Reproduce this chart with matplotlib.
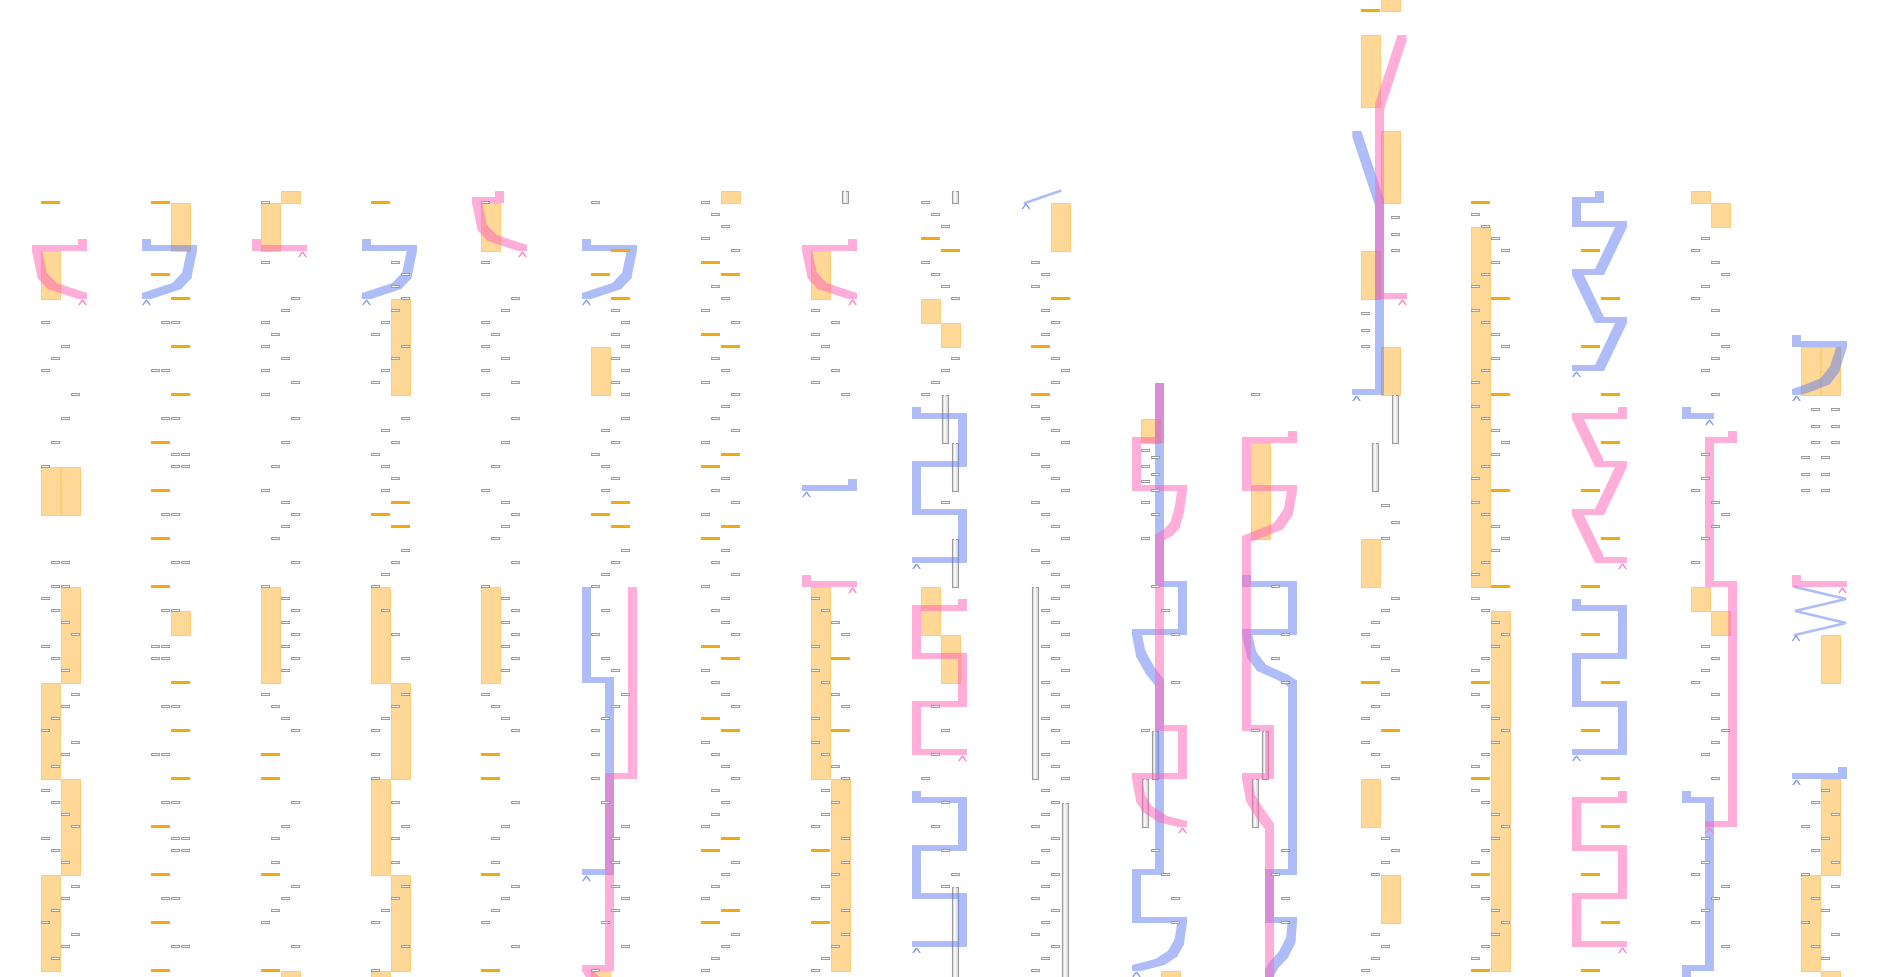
import matplotlib
matplotlib.use("Agg")
import matplotlib.pyplot as plt
from matplotlib.patches import Rectangle, PathPatch
from matplotlib.path import Path

# ---------------- data (per chart column; beat index counted from the top) ----------------
# tap notes: (beat, lane 0..3)
tap_notes = [
    [(27,0),(29,2),(30,1),(31,0),(33,3),(35,2),(37,1),(39,0),(47,1),(47,2),(49,1),(49,2),(50,0),(51,1),(52,2),(53,3),(54,0),(55,1),(56,2),(58,3),(59,2),(60,1),(61,0),(62,3),(63,2),(64,1),(66,0),(67,1),(68,2),(69,3),(70,0),(71,1),(72,2),(74,3),(75,2),(76,1),(77,0),(78,3),(79,2),(80,1)],
    [(27,1),(27,2),(31,0),(31,1),(35,1),(35,2),(38,2),(38,3),(39,2),(39,3),(43,1),(43,2),(47,2),(47,3),(51,1),(51,2),(54,0),(54,1),(55,0),(55,1),(59,1),(59,2),(63,0),(63,1),(67,1),(67,2),(70,2),(70,3),(71,2),(71,3),(75,1),(75,2),(79,2),(79,3)],
    [(17,0),(22,0),(25,3),(26,2),(27,0),(28,1),(29,0),(30,2),(31,0),(32,3),(33,0),(35,3),(37,2),(39,1),(41,0),(42,2),(43,3),(44,2),(45,1),(47,3),(49,0),(50,2),(51,3),(52,2),(53,3),(54,2),(55,3),(56,2),(58,0),(59,1),(60,2),(61,3),(67,3),(69,2),(70,1),(72,1),(74,3),(75,2),(76,1),(77,0),(79,3)],
    [(22,2),(23,3),(24,2),(25,3),(26,2),(27,1),(28,0),(29,3),(30,2),(31,1),(32,0),(35,3),(36,1),(37,2),(38,0),(39,1),(40,2),(41,1),(46,3),(47,2),(48,1),(49,0),(51,1),(53,2),(55,3),(58,3),(59,2),(60,1),(61,0),(63,0),(65,0),(67,2),(69,3),(70,2),(72,2),(74,3),(75,2),(76,1),(77,0),(79,3),(81,0)],
    [(17,0),(22,0),(25,3),(26,2),(27,0),(28,1),(29,0),(30,2),(31,0),(32,3),(33,0),(35,3),(37,2),(39,1),(41,0),(42,2),(43,3),(44,2),(45,1),(47,3),(49,0),(50,2),(51,3),(52,2),(53,3),(54,2),(55,3),(56,2),(58,0),(59,1),(60,2),(61,3),(67,3),(69,2),(70,1),(72,1),(74,3),(75,2),(76,1),(77,0),(79,3)],
    [(17,0),(26,2),(27,3),(28,2),(29,3),(30,2),(31,3),(32,2),(33,3),(35,3),(36,1),(37,2),(38,0),(39,1),(40,2),(41,1),(46,3),(47,2),(48,1),(49,0),(51,1),(53,0),(55,1),(56,2),(58,3),(59,2),(60,1),(61,0),(63,0),(65,0),(67,1),(69,3),(70,2),(72,2),(74,2),(75,3),(76,2),(77,1),(79,3),(81,0)],
    [(17,0),(18,1),(19,2),(20,0),(21,3),(24,1),(25,2),(26,0),(27,3),(30,1),(31,2),(32,0),(33,3),(34,2),(35,1),(36,3),(37,0),(40,2),(41,1),(42,3),(43,0),(46,2),(47,1),(48,3),(49,0),(50,2),(51,1),(52,2),(53,3),(56,0),(57,1),(58,2),(59,3),(62,0),(63,1),(64,2),(65,3),(66,1),(67,2),(68,1),(69,0),(72,3),(73,2),(74,1),(75,0),(78,3),(79,2),(80,1),(81,0)],
    [(26,0),(27,2),(28,0),(29,1),(30,0),(31,2),(32,0),(33,3),(50,0),(51,1),(52,2),(53,3),(54,0),(56,0),(57,1),(58,2),(59,3),(60,0),(62,0),(63,1),(64,2),(65,3),(66,1),(67,2),(68,1),(69,0),(70,3),(72,3),(73,2),(74,1),(75,0),(76,3),(78,3),(79,2),(80,1),(81,0)],
    [(17,0),(18,1),(19,2),(22,0),(23,1),(24,2),(25,3),(30,3),(31,2),(32,1),(33,0),(42,2),(59,1),(61,2),(63,1),(65,0),(67,2),(69,1),(71,2),(73,3),(74,2)],
    [(22,0),(23,1),(24,0),(26,1),(27,2),(28,1),(30,2),(31,3),(32,2),(34,0),(35,1),(36,2),(37,3),(38,0),(39,1),(40,2),(41,3),(42,0),(43,1),(44,2),(45,3),(46,0),(47,1),(48,2),(49,3),(50,2),(51,1),(52,2),(53,3),(54,1),(55,2),(56,3),(57,1),(58,2),(59,3),(60,1),(61,2),(62,3),(63,1),(64,2),(65,3),(66,1),(67,2),(68,1),(69,0),(70,2),(71,1),(72,0),(73,2),(74,1),(75,0),(76,2),(77,1),(78,0),(79,2),(80,1),(81,0)],
    [(37.67,0),(38.33,1),(39,0),(39.67,1),(40.33,0),(41,1),(42,0),(43,1),(45,0),(49,1),(51,2),(53,3),(57,3),(61,0),(71,1),(73,2),(75,3),(77,3)],
    [(33,0),(49,2),(53,3),(55,2),(57,3),(61,0),(71,3),(73,2),(75,3),(77,3)],
    [(18.33,3),(19.67,3),(21,3),(26.33,0),(27.67,0),(29,0),(42.33,2),(43.67,3),(45,2),(50,3),(51,2),(52,1),(53,0),(54,1),(55,2),(56,3),(58,2),(59,1),(60,0),(62,0),(63,1),(64,2),(65,3),(70,2),(71,3),(72,2),(73,1),(78,1),(79,2),(80,1),(81,0)],
    [(18,0),(19,1),(20,2),(21,3),(22,2),(23,1),(24,0),(26,0),(27,1),(28,2),(29,3),(30,2),(31,1),(32,0),(34,0),(35,1),(36,2),(37,3),(38,2),(39,1),(40,0),(42,0),(43,1),(44,2),(45,3),(46,2),(47,1),(48,0),(50,0),(51,1),(52,2),(53,3),(54,2),(55,1),(56,0),(58,0),(59,1),(60,2),(61,3),(62,2),(63,1),(64,0),(66,0),(67,1),(68,2),(69,3),(70,2),(71,1),(72,0),(74,0),(75,1),(76,2),(77,3),(78,2),(79,1),(80,0)],
    [],
    [(20,1),(21,0),(22,2),(23,3),(24,1),(25,0),(26,2),(28,2),(29,3),(30,2),(31,1),(33,2),(38,1),(40,1),(41,0),(42,2),(43,3),(44,2),(45,1),(47,0),(54,1),(55,2),(56,1),(57,0),(58,2),(60,2),(61,3),(62,2),(63,1),(65,2),(70,1),(72,1),(73,0),(74,3),(75,2),(76,1),(77,0),(79,3)],
    [(34.33,1),(34.33,3),(35.67,1),(35.67,3),(37,1),(37,3),(38.33,0),(38.33,2),(39.67,0),(39.67,2),(41,0),(41,2),(66,2),(67,1),(68,3),(69,0),(70,2),(71,1),(72,3),(73,0),(74,3),(75,1),(76,2),(77,0),(78,3),(79,1),(80,2)],
]

# hold notes: (side 0/1, start beat, end beat)
hold_notes = [
    [(0,21,25),(0,39,43),(1,39,43),(1,49,57),(0,57,65),(1,65,73),(0,73,81)],
    [(1,17,21),(1,51,53)],
    [(1,16,17),(0,17,21),(0,49,57),(1,81,82)],
    [(1,25,33),(0,49,57),(1,57,65),(0,65,73),(1,73,81),(0,81,82)],
    [(0,17,21),(0,49,57)],
    [(0,29,33),(0,81,82)],
    [(1,16,17)],
    [(0,21,25),(0,49,65),(1,65,81)],
    [(0,25,27),(1,27,29),(0,49,53),(1,53,57)],
    [(1,17,21)],
    [(0,35,37),(1,81,82)],
    [(0,37,45)],
    [(1,0,1),(0,3,9),(1,11,17),(0,21,25),(1,29,33),(0,45,49),(0,65,69),(1,73,77)],
    [(0,19,49),(1,51,81)],
    [],
    [(0,16,17),(1,17,19),(0,49,51),(1,51,53)],
    [(0,29,33),(1,29,33),(1,53,57),(1,65,73),(0,73,81),(1,81,82)],
]

# flick notes: (side 0/1, beat)
flick_notes = [
    [(0,17)],
    [(0,17),(0,23),(1,25),(1,29),(1,33),(0,37),(0,41),(0,45),(0,49),(1,57),(1,61),(1,65),(0,69),(0,73),(0,77),(0,81)],
    [(0,63),(0,65),(0,73),(0,81)],
    [(0,17),(1,42),(0,43),(1,44)],
    [(0,63),(0,65),(0,73),(0,81)],
    [(1,21),(0,23),(1,25),(1,42),(0,43),(1,44)],
    [(0,22),(1,23),(0,28),(1,29),(1,38),(0,39),(1,44),(0,45),(0,54),(1,55),(0,60),(1,61),(1,70),(0,71),(1,76),(0,77)],
    [(1,55),(1,61),(0,71),(0,77)],
    [(0,20),(1,21)],
    [(1,25),(0,29),(0,33)],
    [],
    [],
    [(0,1),(0,57),(1,61)],
    [(0,17),(1,25),(1,33),(1,41),(1,49),(0,57),(0,65),(0,73),(0,81)],
    [(0,21),(1,25),(0,29),(1,33),(1,37),(0,41),(1,45),(0,49),(0,53),(1,57),(0,61),(1,65),(1,69),(0,73),(1,77),(0,81)],
    [],
    [],
]

# sky traces: (column, lane position, start beat, end beat)
trace_notes = [
    (7,31,16,17),(8,31,16,17),(8,21,33,37),(8,31,37,41),(8,31,45,49),(8,31,74,82),
    (9,1,49,65),(9,31,67,82),(10,11,61,65),(10,1,65,69),(11,11,61,65),(11,1,65,69),
    (12,31,33,37),(12,11,37,41),
]

# arcs: (column, colour, has start mark, [(position, beat), ...]) -- first point is the start
arc_notes = [
    (0,'pink',True,[(42.5,25),(12.3,24.17),(2.3,23.3),(-3.5,21),(42.5,21),(42.5,20.5)]),
    (1,'blue',True,[(-3.5,25),(26.7,24.17),(36.7,23.3),(42.5,21),(-3.5,21),(-3.5,20.5)]),
    (2,'pink',True,[(42.5,21),(-3.5,21),(-3.5,20.5)]),
    (3,'blue',True,[(-3.5,25),(26.7,24.17),(36.7,23.3),(42.5,21),(-3.5,21),(-3.5,20.5)]),
    (4,'pink',True,[(42.5,21),(12.3,20.17),(2.3,19.3),(-3.5,17),(19.5,17),(19.5,16.5)]),
    (5,'blue',True,[(-3.5,25),(26.7,24.17),(36.7,23.3),(42.5,21),(-3.5,21),(-3.5,20.5)]),
    (5,'blue',True,[(-3.5,73),(19.5,73),(19.5,57),(-3.5,57),(-3.5,49.5)]),
    (5,'pink',False,[(9,82.3),(2.5,81.8),(-3.5,81),(19.5,81),(19.5,65),(42.5,65),(42.5,49.5)]),
    (7,'pink',True,[(42.5,25),(12.3,24.17),(2.3,23.3),(-3.5,21),(42.5,21),(42.5,20.5)]),
    (7,'blue',True,[(-3.5,41),(42.5,41),(42.5,40.5)]),
    (7,'pink',True,[(42.5,49),(-3.5,49),(-3.5,48.5)]),
    (8,'blue',True,[(-3.5,47),(42.5,47),(42.5,43),(-3.5,43),(-3.5,39),(42.5,39),(42.5,35),(-3.5,35),(-3.5,34.5)]),
    (8,'pink',True,[(42.5,63),(-3.5,63),(-3.5,59),(42.5,59),(42.5,55),(-3.5,55),(-3.5,51),(42.5,51),(42.5,50.5)]),
    (8,'blue',True,[(-3.5,79),(42.5,79),(42.5,75),(-3.5,75),(-3.5,71),(42.5,71),(42.5,67),(-3.5,67),(-3.5,66.5)]),
    (10,'pink',True,[(42.5,69),(23.3,68.6),(7.3,67.75),(0.7,66.9),(-3.5,65),(42.5,65),(42.5,61),(19.5,61),(19.5,45.15),(28.3,44.7),(35,44.1),(39.3,42.8),(42.5,41),(-3.5,41),(-3.5,37),(19.5,37),(19.5,32.5)]),
    (10,'blue',True,[(-3.5,81),(20,80.5),(32.7,79.8),(39.3,78.8),(42.5,77),(-3.5,77),(-3.5,73),(19.5,73),(19.5,57.2),(10,56.2),(0.7,54.8),(-3.5,53),(42.5,53),(42.5,49),(19.5,49),(19.5,32.5)]),
    (11,'pink',False,[(19.5,82),(19.5,69.2),(10.7,68.2),(0.7,66.9),(-3.5,65),(19.5,65),(19.5,61),(-3.5,61),(-3.5,45.25),(10,44.8),(28.3,44.2),(38.3,43),(42.5,41),(-3.5,41),(-3.5,37),(42.5,37),(42.5,36.5)]),
    (11,'blue',False,[(19.5,82),(19.5,81.4),(23.3,80.8),(33.3,79.9),(40.7,78.7),(42.5,77),(19.5,77),(19.5,73),(42.5,73),(42.5,57.3),(33.3,56.8),(11.7,56),(1.7,54.9),(-3.5,53),(42.5,53),(42.5,49),(-3.5,49),(-3.5,48.5)]),
    (12,'pink',True,[(42.5,25),(19.5,25),(19.5,9.25),(42,3.5)]),
    (12,'blue',True,[(-3.5,33),(19.5,33),(19.5,17.2),(-3.2,11.5)]),
    (14,'blue',True,[(-3.5,31),(19.5,31),(42.5,27),(19.5,27),(-3.5,23),(19.5,23),(42.5,19),(-3.5,19),(-3.5,17),(19.5,17),(19.5,16.5)]),
    (14,'pink',True,[(42.5,47),(19.5,47),(-3.5,43),(19.5,43),(42.5,39),(19.5,39),(-3.5,35),(42.5,35),(42.5,34.5)]),
    (14,'blue',True,[(-3.5,63),(42.5,63),(42.5,59),(-3.5,59),(-3.5,55),(42.5,55),(42.5,51),(-3.5,51),(-3.5,50.5)]),
    (14,'pink',True,[(42.5,79),(-3.5,79),(-3.5,75),(42.5,75),(42.5,71),(-3.5,71),(-3.5,67),(42.5,67),(42.5,66.5)]),
    (15,'blue',True,[(19.5,35),(-3.5,35),(-3.5,34.5)]),
    (15,'pink',True,[(19.5,69),(42.5,69),(42.5,49),(19.5,49),(19.5,37),(42.5,37),(42.5,36.5)]),
    (15,'blue',False,[(-3.5,82),(-3.5,81),(19.5,81),(19.5,67),(-3.5,67),(-3.5,66.5)]),
    (16,'blue',True,[(-3.5,33),(10.5,32.6),(25.3,32.1),(34.6,31.1),(42.5,29),(-3.5,29),(-3.5,28.5)]),
    (16,'pink',True,[(42.5,49),(-3.5,49),(-3.5,48.5)]),
    (16,'blue',True,[(-3.5,65),(42.5,65),(42.5,64.5)]),
]

# thin (trace-height) arcs: (column, colour, [(position, beat), ...])
thin_arcs = [
    (9,'blue',[(-5,17),(30,16)]),
    (16,'blue',[(-5,53),(46,52),(-5,51),(46,50),(-5,49)]),
]

# ---------------- layout / style ----------------
W, H, DPI = 1880, 978, 100
COL_X0, COL_STEP, ROW = 40, 110, 12
PX = 72.0 / DPI  # points per pixel
ARC_FILL = {'blue': (95/255, 125/255, 240/255, 0.5), 'pink': (255/255, 100/255, 185/255, 0.52)}
ARC_MARK = {'blue': '#7f98f2', 'pink': '#ff7cc6'}
ARC_Z = {'blue': 3.0, 'pink': 3.2}
HW, HH = 4.5, 3.0

fig = plt.figure(figsize=(W / DPI, H / DPI), dpi=DPI, facecolor='white')
ax = fig.add_axes([0, 0, 1, 1])
ax.set_xlim(0, W)
ax.set_ylim(H, 0)
ax.axis('off')


def colx(c):
    return COL_X0 + COL_STEP * c


def hull(pts):
    pts = sorted(set(pts))
    def cross(o, a, b):
        return (a[0]-o[0])*(b[1]-o[1]) - (a[1]-o[1])*(b[0]-o[0])
    lower, upper = [], []
    for p in pts:
        while len(lower) >= 2 and cross(lower[-2], lower[-1], p) <= 0:
            lower.pop()
        lower.append(p)
    for p in reversed(pts):
        while len(upper) >= 2 and cross(upper[-2], upper[-1], p) <= 0:
            upper.pop()
        upper.append(p)
    return lower[:-1] + upper[:-1]


# holds
for c, holds in enumerate(hold_notes):
    for side, b0, b1 in holds:
        ax.add_patch(Rectangle((colx(c) + 20*side + 0.5, ROW*b0), 19, ROW*(b1-b0),
                               fc='#FFD898', ec='#FFC86A', lw=0.9*PX, zorder=1))

# traces
for c, xo, b0, b1 in trace_notes:
    x = colx(c) + xo
    ax.add_patch(Rectangle((x + 0.5, ROW*b0), 6, ROW*(b1-b0), fc='#E2E2E2', ec='#9A9A9A', lw=1.1*PX, zorder=2))
    ax.plot([x + 3.5, x + 3.5], [ROW*b0, ROW*b1], color='#F6F6F6', lw=2*PX, zorder=2.1, solid_capstyle='butt')

# arcs
for c, col, mark, pts in arc_notes:
    x0 = colx(c)
    verts, codes = [], []
    P = [(x0 + xo, ROW*r - 3) for xo, r in pts]
    for p, q in zip(P[:-1], P[1:]):
        corners = []
        for (cx, cy) in (p, q):
            for dx in (-HW, HW):
                for dy in (-HH, HH):
                    corners.append((round(cx+dx, 4), round(cy+dy, 4)))
        h = hull(corners)
        verts += h + [h[0]]
        codes += [Path.MOVETO] + [Path.LINETO]*(len(h)-1) + [Path.CLOSEPOLY]
    ax.add_patch(PathPatch(Path(verts, codes), fc=ARC_FILL[col], ec='none', lw=0, zorder=ARC_Z[col]))
    if mark:
        sx, sr = pts[0]
        ax.plot([x0+sx-3.3, x0+sx, x0+sx+3.3], [ROW*sr+5.5, ROW*sr+1, ROW*sr+5.5],
                color=ARC_MARK[col], lw=1.3*PX, zorder=5, solid_joinstyle='miter')

for c, col, pts in thin_arcs:
    x0 = colx(c)
    ax.plot([x0 + xo for xo, r in pts], [ROW*r for xo, r in pts], color=ARC_FILL[col],
            lw=2.6*PX, zorder=3, solid_joinstyle='miter')
    sx, sr = pts[0]
    ax.plot([x0+sx+1-3.3, x0+sx+1, x0+sx+1+3.3], [ROW*sr+5.5, ROW*sr+1, ROW*sr+5.5],
            color=ARC_MARK[col], lw=1.3*PX, zorder=5)

# flicks
for c, flicks in enumerate(flick_notes):
    for side, b in flicks:
        ax.add_patch(Rectangle((colx(c) + 20*side + 0.5, ROW*b - 2.5), 18, 2,
                               fc='#F7AE14', ec='#F2A600', lw=1*PX, zorder=4))

# taps
for c, taps in enumerate(tap_notes):
    for b, lane in taps:
        ax.add_patch(Rectangle((colx(c) + 10*lane + 0.5, ROW*b - 2.5), 8, 2,
                               fc='white', ec='#9A9A9A', lw=1*PX, zorder=4))

fig.savefig('out.png', dpi=DPI, facecolor='white')
